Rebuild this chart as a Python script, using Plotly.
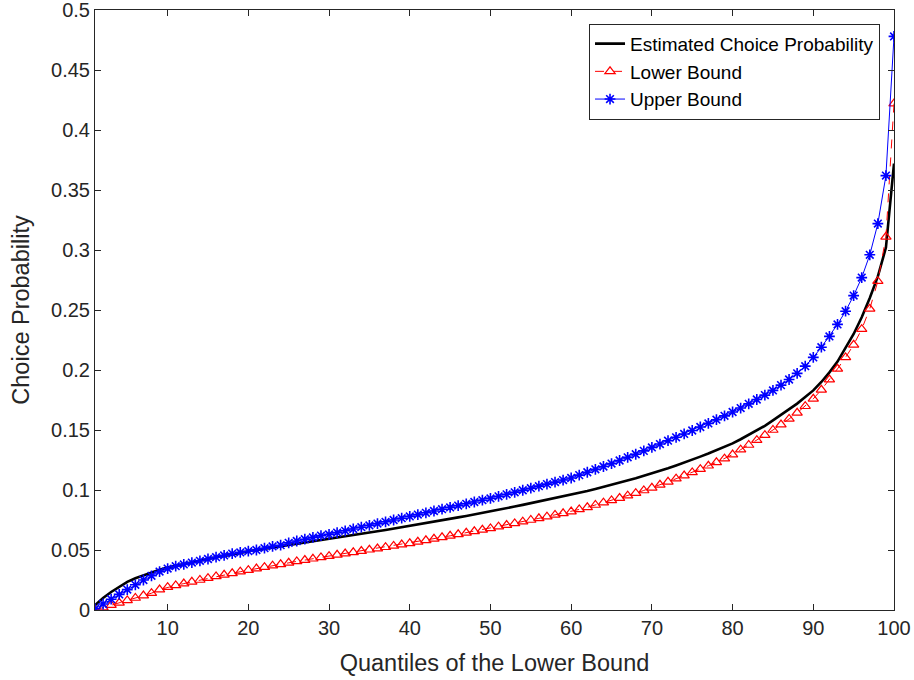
import plotly.graph_objects as go

quantiles = list(range(1, 101))

estimated = [
    0.004, 0.010, 0.015, 0.0195, 0.0235, 0.0265, 0.029, 0.031, 0.0335, 0.0355,
    0.037, 0.0385, 0.040, 0.0415, 0.043, 0.044, 0.045, 0.046, 0.0475, 0.049,
    0.050, 0.051, 0.052, 0.053, 0.054, 0.055, 0.056, 0.057, 0.058, 0.059,
    0.0601, 0.0612, 0.0623, 0.0634, 0.0645, 0.0656, 0.0667, 0.0678, 0.0689, 0.070,
    0.0712, 0.0724, 0.0736, 0.0748, 0.076, 0.0772, 0.0784, 0.0796, 0.0808, 0.082,
    0.0834, 0.0848, 0.0862, 0.0876, 0.089, 0.0904, 0.0918, 0.0932, 0.0946, 0.096,
    0.0976, 0.0992, 0.1009, 0.1026, 0.1043, 0.1061, 0.1079, 0.1098, 0.1118, 0.1138,
    0.116, 0.1182, 0.1205, 0.1228, 0.1252, 0.1278, 0.1304, 0.1331, 0.1359, 0.1388,
    0.1423, 0.1458, 0.1495, 0.1535, 0.158, 0.1625, 0.167, 0.172, 0.1775, 0.183,
    0.190, 0.198, 0.207, 0.218, 0.230, 0.244, 0.260, 0.278, 0.302, 0.372,
]

lower = [
    0.000, 0.002, 0.004, 0.006, 0.008, 0.010, 0.012, 0.014, 0.017, 0.019,
    0.0205, 0.022, 0.0235, 0.025, 0.0265, 0.028, 0.0293, 0.0306, 0.0319, 0.0332,
    0.0345, 0.0357, 0.0369, 0.0381, 0.0393, 0.0405, 0.0416, 0.0427, 0.0438, 0.0449,
    0.046, 0.047, 0.0481, 0.0491, 0.0502, 0.0512, 0.0523, 0.0534, 0.0545, 0.0556,
    0.0568, 0.0581, 0.0593, 0.0606, 0.0618, 0.0631, 0.0643, 0.0656, 0.0668, 0.068,
    0.0694, 0.0708, 0.0722, 0.0736, 0.075, 0.0764, 0.0778, 0.0792, 0.0806, 0.082,
    0.0838, 0.0856, 0.0875, 0.0894, 0.0913, 0.0933, 0.0953, 0.0974, 0.0996, 0.1018,
    0.1043, 0.1068, 0.1094, 0.112, 0.1147, 0.1174, 0.1202, 0.1231, 0.1261, 0.1295,
    0.1336, 0.1375, 0.1415, 0.1457, 0.150, 0.1545, 0.1592, 0.1643, 0.1698, 0.176,
    0.1835, 0.192, 0.201, 0.2105, 0.221, 0.234, 0.251, 0.274, 0.311, 0.422,
]

upper = [
    0.001, 0.005, 0.009, 0.013, 0.017, 0.021, 0.025, 0.0285, 0.032, 0.0345,
    0.0365, 0.038, 0.0395, 0.041, 0.0425, 0.044, 0.0455, 0.047, 0.048, 0.049,
    0.050, 0.0515, 0.053, 0.054, 0.056, 0.0575, 0.059, 0.0605, 0.062, 0.063,
    0.0645, 0.066, 0.0675, 0.069, 0.0705, 0.072, 0.0735, 0.075, 0.0765, 0.078,
    0.0795, 0.081, 0.0825, 0.084, 0.0855, 0.087, 0.0885, 0.090, 0.0915, 0.093,
    0.0947, 0.0964, 0.0981, 0.0998, 0.1015, 0.1032, 0.1049, 0.1066, 0.1083, 0.110,
    0.1124, 0.1148, 0.1172, 0.1196, 0.122, 0.1246, 0.1272, 0.1298, 0.1326, 0.1355,
    0.1383, 0.1411, 0.1439, 0.1467, 0.1496, 0.1525, 0.1555, 0.1586, 0.1618, 0.165,
    0.1683, 0.1718, 0.1754, 0.1791, 0.183, 0.1874, 0.1921, 0.1972, 0.2032, 0.2105,
    0.219, 0.228, 0.238, 0.249, 0.262, 0.277, 0.296, 0.322, 0.362, 0.478,
]

x_tick_vals = [10, 20, 30, 40, 50, 60, 70, 80, 90, 100]
x_tick_text = ["10", "20", "30", "40", "50", "60", "70", "80", "90", "100"]
y_tick_vals = [0, 0.05, 0.1, 0.15, 0.2, 0.25, 0.3, 0.35, 0.4, 0.45, 0.5]
y_tick_text = ["0", "0.05", "0.1", "0.15", "0.2", "0.25", "0.3", "0.35", "0.4", "0.45", "0.5"]

FONT = "Liberation Sans, Arial, Helvetica, sans-serif"
AX = "#262626"

fig = go.Figure()
fig.add_trace(go.Scatter(
    x=quantiles, y=estimated, mode="lines", name="Estimated Choice Probability",
    line=dict(color="black", width=2.6),
))
fig.add_trace(go.Scatter(
    x=quantiles, y=lower, mode="lines+markers", name="Lower Bound",
    line=dict(color="#ff0000", width=1, dash="dash"),
    marker=dict(symbol="triangle-up-open", size=9, color="#ff0000",
                line=dict(color="#ff0000", width=1.2)),
))
fig.add_trace(go.Scatter(
    x=quantiles, y=upper, mode="lines+markers", name="Upper Bound",
    line=dict(color="#0000ff", width=1),
    marker=dict(symbol="asterisk-open", size=9, color="#0000ff",
                line=dict(color="#0000ff", width=1.6)),
))

axis_common = dict(
    showline=True, linecolor=AX, linewidth=1, mirror="ticks",
    ticks="inside", ticklen=6, tickcolor=AX, tickwidth=1,
    showgrid=False, zeroline=False, automargin=False,
    ticklabeloverflow="allow",
    tickfont=dict(family=FONT, size=20, color=AX),
)

fig.update_layout(
    width=914, height=680,
    margin=dict(l=95, r=20, t=10, b=70),
    paper_bgcolor="white", plot_bgcolor="white",
    font=dict(family=FONT, color=AX),
    xaxis=dict(
        range=[1, 100], tickmode="array", tickvals=x_tick_vals, ticktext=x_tick_text,
        title=dict(text="Quantiles of the Lower Bound", font=dict(family=FONT, size=23.5, color=AX), standoff=16),
        **axis_common,
    ),
    yaxis=dict(
        range=[0, 0.5], tickmode="array", tickvals=y_tick_vals, ticktext=y_tick_text,
        title=dict(text="Choice Probability", font=dict(family=FONT, size=23.5, color=AX), standoff=14),
        **axis_common,
    ),
    legend=dict(
        x=0.9825, y=0.977, xanchor="right", yanchor="top",
        bgcolor="white", bordercolor=AX, borderwidth=1,
        font=dict(family=FONT, size=19, color="black"),
        tracegroupgap=0,
    ),
    showlegend=True,
)

fig.write_html("out.html", config={"displayModeBar": False},
               post_script="document.body.style.margin='0';")
